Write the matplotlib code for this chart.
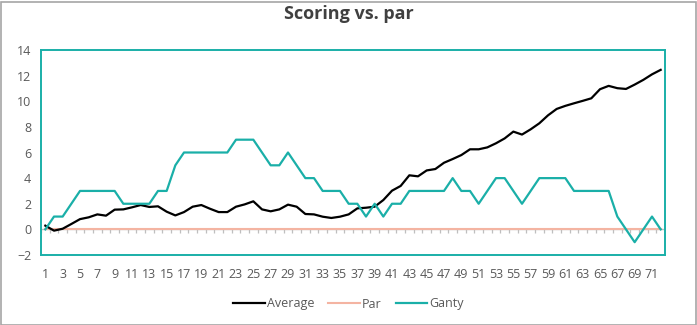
import matplotlib
matplotlib.use("Agg")
import matplotlib.pyplot as plt
from matplotlib.patches import Rectangle
import numpy as np

plt.rcParams['font.family'] = ['Open Sans', 'DejaVu Sans']

holes = list(range(1, 73))

average = [0.29, -0.10, 0.05, 0.42, 0.80, 0.94, 1.17, 1.07, 1.54, 1.56,
           1.72, 1.90, 1.75, 1.80, 1.38, 1.09, 1.35, 1.77, 1.90, 1.61,
           1.35, 1.35, 1.77, 1.95, 2.19, 1.56, 1.41, 1.56, 1.93, 1.77,
           1.20, 1.17, 0.99, 0.89, 0.99, 1.17, 1.64, 1.69, 1.77, 2.29,
           3.02, 3.39, 4.22, 4.14, 4.60, 4.71, 5.20, 5.49, 5.80, 6.25,
           6.25, 6.40, 6.72, 7.10, 7.63, 7.40, 7.81, 8.28, 8.90, 9.40,
           9.64, 9.84, 10.03, 10.23, 10.94, 11.20, 11.02, 10.96, 11.30, 11.67,
           12.10, 12.45]

par = [0] * 72

ganty = [0, 1, 1, 2, 3, 3, 3, 3, 3, 2,
         2, 2, 2, 3, 3, 5, 6, 6, 6, 6,
         6, 6, 7, 7, 7, 6, 5, 5, 6, 5,
         4, 4, 3, 3, 3, 2, 2, 1, 2, 1,
         2, 2, 3, 3, 3, 3, 3, 4, 3, 3,
         2, 3, 4, 4, 3, 2, 3, 4, 4, 4,
         4, 3, 3, 3, 3, 3, 1, 0, -1, 0,
         1, 0]

y_ticks = list(range(-2, 15, 2))
x_labels = [str(h) if h % 2 == 1 else "" for h in holes]

TEAL = "#1AAFA8"
SALMON = "#F4B4A2"
GRAY_TXT = "#595959"

fig = plt.figure(figsize=(6.97, 3.25), dpi=100)
ax = fig.add_axes([41 / 697, 1 - 255 / 325, 624 / 697, 205 / 325])

# category axis line at zero with boundary tick marks
ax.axhline(0, color="#BFBFBF", lw=1.0, zorder=1)
bounds = np.arange(0.5, len(holes) + 1, 1.0)
ax.vlines(bounds, -0.32, 0, color="#BFBFBF", lw=0.9, zorder=1)

ax.plot(holes, par, color=SALMON, lw=1.5, label="Par", zorder=2)
ax.plot(holes, average, color="black", lw=1.6, label="Average", zorder=3)
ax.plot(holes, ganty, color=TEAL, lw=1.6, label="Ganty", zorder=4)

ax.set_xlim(0.5, len(holes) + 0.5)
ax.set_ylim(-2, 14)
ax.set_yticks(y_ticks)
ax.set_xticks(holes)
ax.set_xticklabels(x_labels)
ax.tick_params(axis="both", length=0, labelsize=9, colors=GRAY_TXT)
ax.tick_params(axis="x", pad=9)
ax.tick_params(axis="y", pad=7)

for s in ax.spines.values():
    s.set_color(TEAL)
    s.set_linewidth(1.4)

fig.text(0.5, 1 - 14 / 325, "Scoring vs. par", ha="center", va="center",
         fontsize=13, fontweight="bold", color="#404040")

handles, labels = ax.get_legend_handles_labels()
order = [labels.index(n) for n in ["Average", "Par", "Ganty"]]
fig.legend([handles[i] for i in order], [labels[i] for i in order],
           loc="center", bbox_to_anchor=(0.5, 1 - 304 / 325), ncol=3,
           frameon=False, fontsize=9, labelcolor=GRAY_TXT,
           handlelength=2.5, handletextpad=0.2, columnspacing=1.1)

fig.patches.append(Rectangle((0.5 / 697, 0.5 / 325), 695 / 697, 323 / 325,
                             transform=fig.transFigure, fill=False,
                             edgecolor="#A6A6A6", lw=1.2))

fig.savefig("out.png", dpi=100)
